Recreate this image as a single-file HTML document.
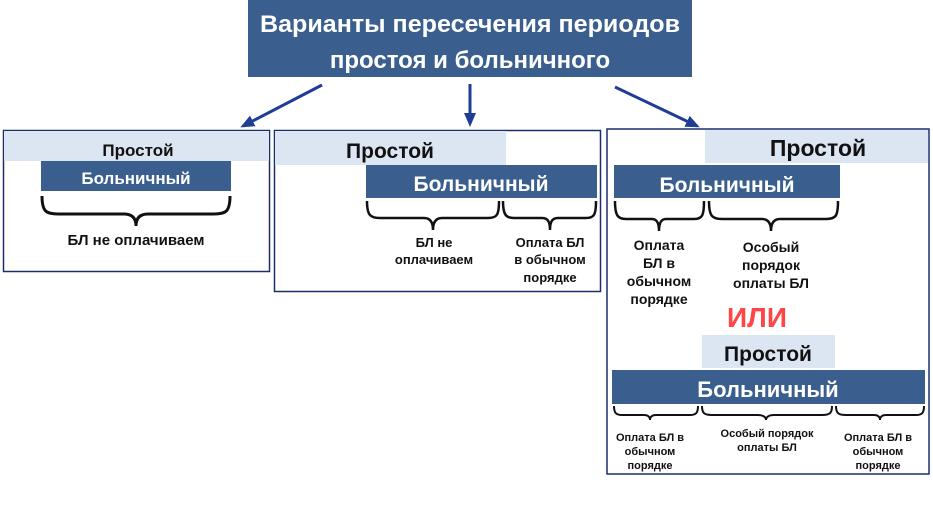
<!DOCTYPE html>
<html><head><meta charset="utf-8"><style>
html,body{margin:0;padding:0;background:#fff;}
svg{display:block;}
text{font-family:"Liberation Sans","DejaVu Sans",sans-serif;font-weight:bold;text-anchor:middle;}
.w{fill:#fff;} .k{fill:#111;}
</style></head><body>
<svg width="933" height="511" viewBox="0 0 933 511" xmlns="http://www.w3.org/2000/svg">
<defs><marker id="a" markerWidth="14" markerHeight="12" refX="11" refY="6" orient="auto" markerUnits="userSpaceOnUse"><path d="M0,0 L14,6 L0,12 z" fill="#1f3c96"/></marker></defs>
<rect x="248" y="0" width="444" height="77" fill="#3a5f8e"/>
<text x="470" y="32" class="w" font-size="24" textLength="420" lengthAdjust="spacingAndGlyphs">Варианты пересечения периодов</text>
<text x="470" y="68" class="w" font-size="24">простоя и больничного</text>
<g stroke="#1f3c96" stroke-width="3" fill="none" marker-end="url(#a)">
<line x1="322" y1="85" x2="243" y2="126"/>
<line x1="470" y1="84" x2="470" y2="124"/>
<line x1="615" y1="87" x2="697" y2="126"/>
</g>
<rect x="3.5" y="130.5" width="266" height="141" fill="#fff" stroke="#1a2f6a" stroke-width="1.5"/>
<rect x="4" y="131" width="265" height="30" fill="#dce6f2"/>
<text x="138" y="156" class="k" font-size="17">Простой</text>
<rect x="41" y="161" width="190" height="30" fill="#3a5f8e"/>
<text x="136" y="184" class="w" font-size="17">Больничный</text>
<path d="M42,196 C42,212 46,214 60,214 L124,214 C132,214 136,218 136,226 C136,218 140,214 148,214 L212,214 C226,214 230,212 230,196" stroke="#111" stroke-width="3" fill="none"/>
<text x="136" y="245" class="k" font-size="15">БЛ не оплачиваем</text>
<rect x="274.5" y="130.5" width="326" height="161" fill="#fff" stroke="#1a2f6a" stroke-width="1.5"/>
<rect x="275" y="131" width="231" height="34" fill="#dce6f2"/>
<text x="390" y="158" class="k" font-size="21">Простой</text>
<rect x="366" y="165" width="231" height="33" fill="#3a5f8e"/>
<text x="481" y="191" class="w" font-size="21">Больничный</text>
<g stroke="#111" stroke-width="2.5" fill="none">
<path d="M367,201 C367,215 370,218 380,218 L424,218 C430,218 433,222 433,230 C433,222 436,218 442,218 L488,218 C497,218 499,215 499,201"/>
<path d="M503,201 C503,215 506,218 514,218 L542,218 C548,218 550,222 550,230 C550,222 552,218 558,218 L586,218 C594,218 596,215 596,201"/>
</g>
<text x="434" y="247" class="k" font-size="13">БЛ не</text>
<text x="434" y="264" class="k" font-size="13">оплачиваем</text>
<text x="550" y="247" class="k" font-size="13">Оплата БЛ</text>
<text x="550" y="264" class="k" font-size="13">в обычном</text>
<text x="550" y="282" class="k" font-size="13">порядке</text>
<rect x="607" y="129" width="322" height="345" fill="#fff" stroke="#1a2f6a" stroke-width="1.5"/>
<rect x="705" y="130" width="223" height="33" fill="#dce6f2"/>
<text x="818" y="156" class="k" font-size="23">Простой</text>
<rect x="614" y="165" width="226" height="33" fill="#3a5f8e"/>
<text x="727" y="192" class="w" font-size="21">Больничный</text>
<g stroke="#111" stroke-width="2.5" fill="none">
<path d="M615,201 C615,216 618,219 626,219 L652,219 C657,219 659,223 659,231 C659,223 661,219 666,219 L694,219 C702,219 704,216 704,201"/>
<path d="M709,201 C709,216 712,219 722,219 L762,219 C768,219 771,223 771,231 C771,223 774,219 780,219 L826,219 C836,219 838,216 838,201"/>
</g>
<text x="659" y="250" class="k" font-size="14">Оплата</text>
<text x="659" y="268" class="k" font-size="14">БЛ в</text>
<text x="659" y="286" class="k" font-size="14">обычном</text>
<text x="659" y="304" class="k" font-size="14">порядке</text>
<text x="771" y="252" class="k" font-size="14">Особый</text>
<text x="771" y="270" class="k" font-size="14">порядок</text>
<text x="771" y="288" class="k" font-size="14">оплаты БЛ</text>
<text x="757" y="327" font-size="28" fill="#ff4545">ИЛИ</text>
<rect x="702" y="335" width="133" height="33" fill="#dce6f2"/>
<text x="768" y="361" class="k" font-size="21">Простой</text>
<rect x="612" y="370" width="313" height="34" fill="#3a5f8e"/>
<text x="768" y="397" class="w" font-size="22">Больничный</text>
<g stroke="#111" stroke-width="2" fill="none">
<path d="M614,406 C614,413 616,415 622,415 L644,415 C648,415 650,417 650,420 C650,417 652,415 656,415 L690,415 C696,415 698,413 698,406"/>
<path d="M702,406 C702,413 704,415 712,415 L758,415 C763,415 766,417 766,420 C766,417 769,415 774,415 L822,415 C830,415 832,413 832,406"/>
<path d="M836,406 C836,413 838,415 846,415 L874,415 C878,415 880,417 880,420 C880,417 882,415 886,415 L916,415 C922,415 924,413 924,406"/>
</g>
<text x="650" y="441" class="k" font-size="11">Оплата БЛ в</text>
<text x="650" y="455" class="k" font-size="11">обычном</text>
<text x="650" y="469" class="k" font-size="11">порядке</text>
<text x="767" y="437" class="k" font-size="11">Особый порядок</text>
<text x="767" y="451" class="k" font-size="11">оплаты БЛ</text>
<text x="878" y="441" class="k" font-size="11">Оплата БЛ в</text>
<text x="878" y="455" class="k" font-size="11">обычном</text>
<text x="878" y="469" class="k" font-size="11">порядке</text>
</svg>
</body></html>
